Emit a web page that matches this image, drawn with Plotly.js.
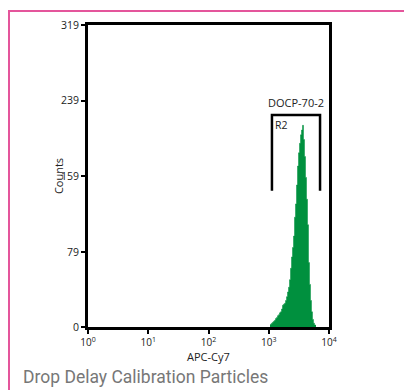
<!DOCTYPE html>
<html>
<head>
<meta charset="utf-8">
<script src="https://cdn.plot.ly/plotly-3.0.1.min.js"></script>
<style>
  html, body { margin: 0; padding: 0; background: #fff; }
  #frame { position: absolute; left: 8px; top: 10px; width: 420px; height: 400px;
           border-left: 2px solid #e4559b; border-top: 2px solid #e4559b; }
  #chart { position: absolute; left: 0; top: 0; width: 404px; height: 390px; }
</style>
</head>
<body>
<div id="frame"></div>
<div id="chart"></div>
<script>
// APC-Cy7 channel values (bin positions) and event counts
const apcCy7 = [1049, 1090, 1132, 1176, 1222, 1270, 1319, 1371, 1424, 1480, 1537, 1597, 1659, 1724,
  1791, 1861, 1933, 2009, 2087, 2168, 2253, 2341, 2432, 2526, 2625, 2727, 2833, 2944, 3058, 3177,
  3301, 3430, 3563, 3702, 3846, 3996, 4152, 4313, 4481, 4656, 4837, 5025, 5221, 5424, 5636, 5855, 6083];
const counts = [2, 3, 4, 5, 6, 7, 9, 10, 12, 13, 15, 16, 19, 23,
  24, 25, 28, 32, 37, 42, 50, 62, 74, 84, 96, 116, 130, 150, 170, 184,
  194, 203, 208, 213, 198, 180, 158, 135, 108, 68, 45, 28, 16, 8, 4, 2, 2];

// Gate R2
const gateName = "R2";
const gateLabel = "DOCP-70-2";
const gateLow = 1130, gateHigh = 7100;
const gateTop = 224, gateBottom = 144;

// Axis ticks and titles
const yTicks = [0, 79, 159, 239, 319];
const xTicks = [1, 10, 100, 1000, 10000];
const xTickText = ["10<sup>0</sup>", "10<sup>1</sup>", "10<sup>2</sup>", "10<sup>3</sup>", "10<sup>4</sup>"];
const xTitle = "APC-Cy7";
const yTitle = "Counts";
const caption = "Drop Delay Calibration Particles";

const baseFont = "Open Sans, DejaVu Sans, sans-serif";
const tickFont = { family: baseFont, size: 10, color: "#222" };

const traces = [
  {
    x: apcCy7, y: counts, type: "scatter", mode: "lines",
    line: { shape: "hvh", color: "#00903e", width: 0.5 },
    fill: "tozeroy", fillcolor: "#00903e", hoverinfo: "x+y"
  },
  {
    x: [gateLow, gateLow, gateHigh, gateHigh],
    y: [gateBottom, gateTop, gateTop, gateBottom],
    type: "scatter", mode: "lines",
    line: { color: "#000", width: 2.5 }, hoverinfo: "skip"
  }
];

const layout = {
  width: 404, height: 390,
  margin: { l: 88, r: 75, t: 25, b: 63 },
  paper_bgcolor: "rgba(0,0,0,0)", plot_bgcolor: "#fff",
  showlegend: false,
  xaxis: {
    type: "log", range: [0, 4], tickvals: xTicks, ticktext: xTickText,
    showgrid: false, zeroline: false, showline: true, mirror: true,
    linecolor: "#000", linewidth: 3, ticks: "outside", ticklen: 4, tickwidth: 2, tickcolor: "#000",
    tickfont: tickFont
  },
  yaxis: {
    range: [0, 319], tickvals: yTicks,
    showgrid: false, zeroline: false, showline: true, mirror: true,
    linecolor: "#000", linewidth: 3, ticks: "outside", ticklen: 4, tickwidth: 2, tickcolor: "#000",
    tickfont: { family: baseFont, size: 10.5, color: "#222" }
  },
  annotations: [
    { x: 0.5, y: -0.097, xref: "paper", yref: "paper", xanchor: "center", yanchor: "middle",
      text: xTitle, showarrow: false, font: { family: baseFont, size: 11, color: "#222" } },
    { x: -0.124, y: 0.5, xref: "paper", yref: "paper", xanchor: "center", yanchor: "middle",
      text: yTitle, textangle: -90, showarrow: false, font: { family: baseFont, size: 11, color: "#222" } },
    { x: Math.log10(Math.sqrt(gateLow * gateHigh)), y: gateTop, xref: "x", yref: "y",
      text: gateLabel, showarrow: false, yanchor: "bottom", yshift: 3,
      font: { family: baseFont, size: 11, color: "#222" } },
    { x: Math.log10(gateLow), y: gateTop, xref: "x", yref: "y",
      text: gateName, showarrow: false, xanchor: "left", yanchor: "top", xshift: 1, yshift: -1,
      font: { family: baseFont, size: 10.5, color: "#222" } },
    { x: -0.28, y: -0.164, xref: "paper", yref: "paper", xanchor: "left", yanchor: "middle",
      text: caption, showarrow: false,
      font: { family: "Roboto, sans-serif", size: 17.5, color: "#777" } }
  ]
};

Plotly.newPlot("chart", traces, layout, { displayModeBar: false, staticPlot: true });
</script>
</body>
</html>
